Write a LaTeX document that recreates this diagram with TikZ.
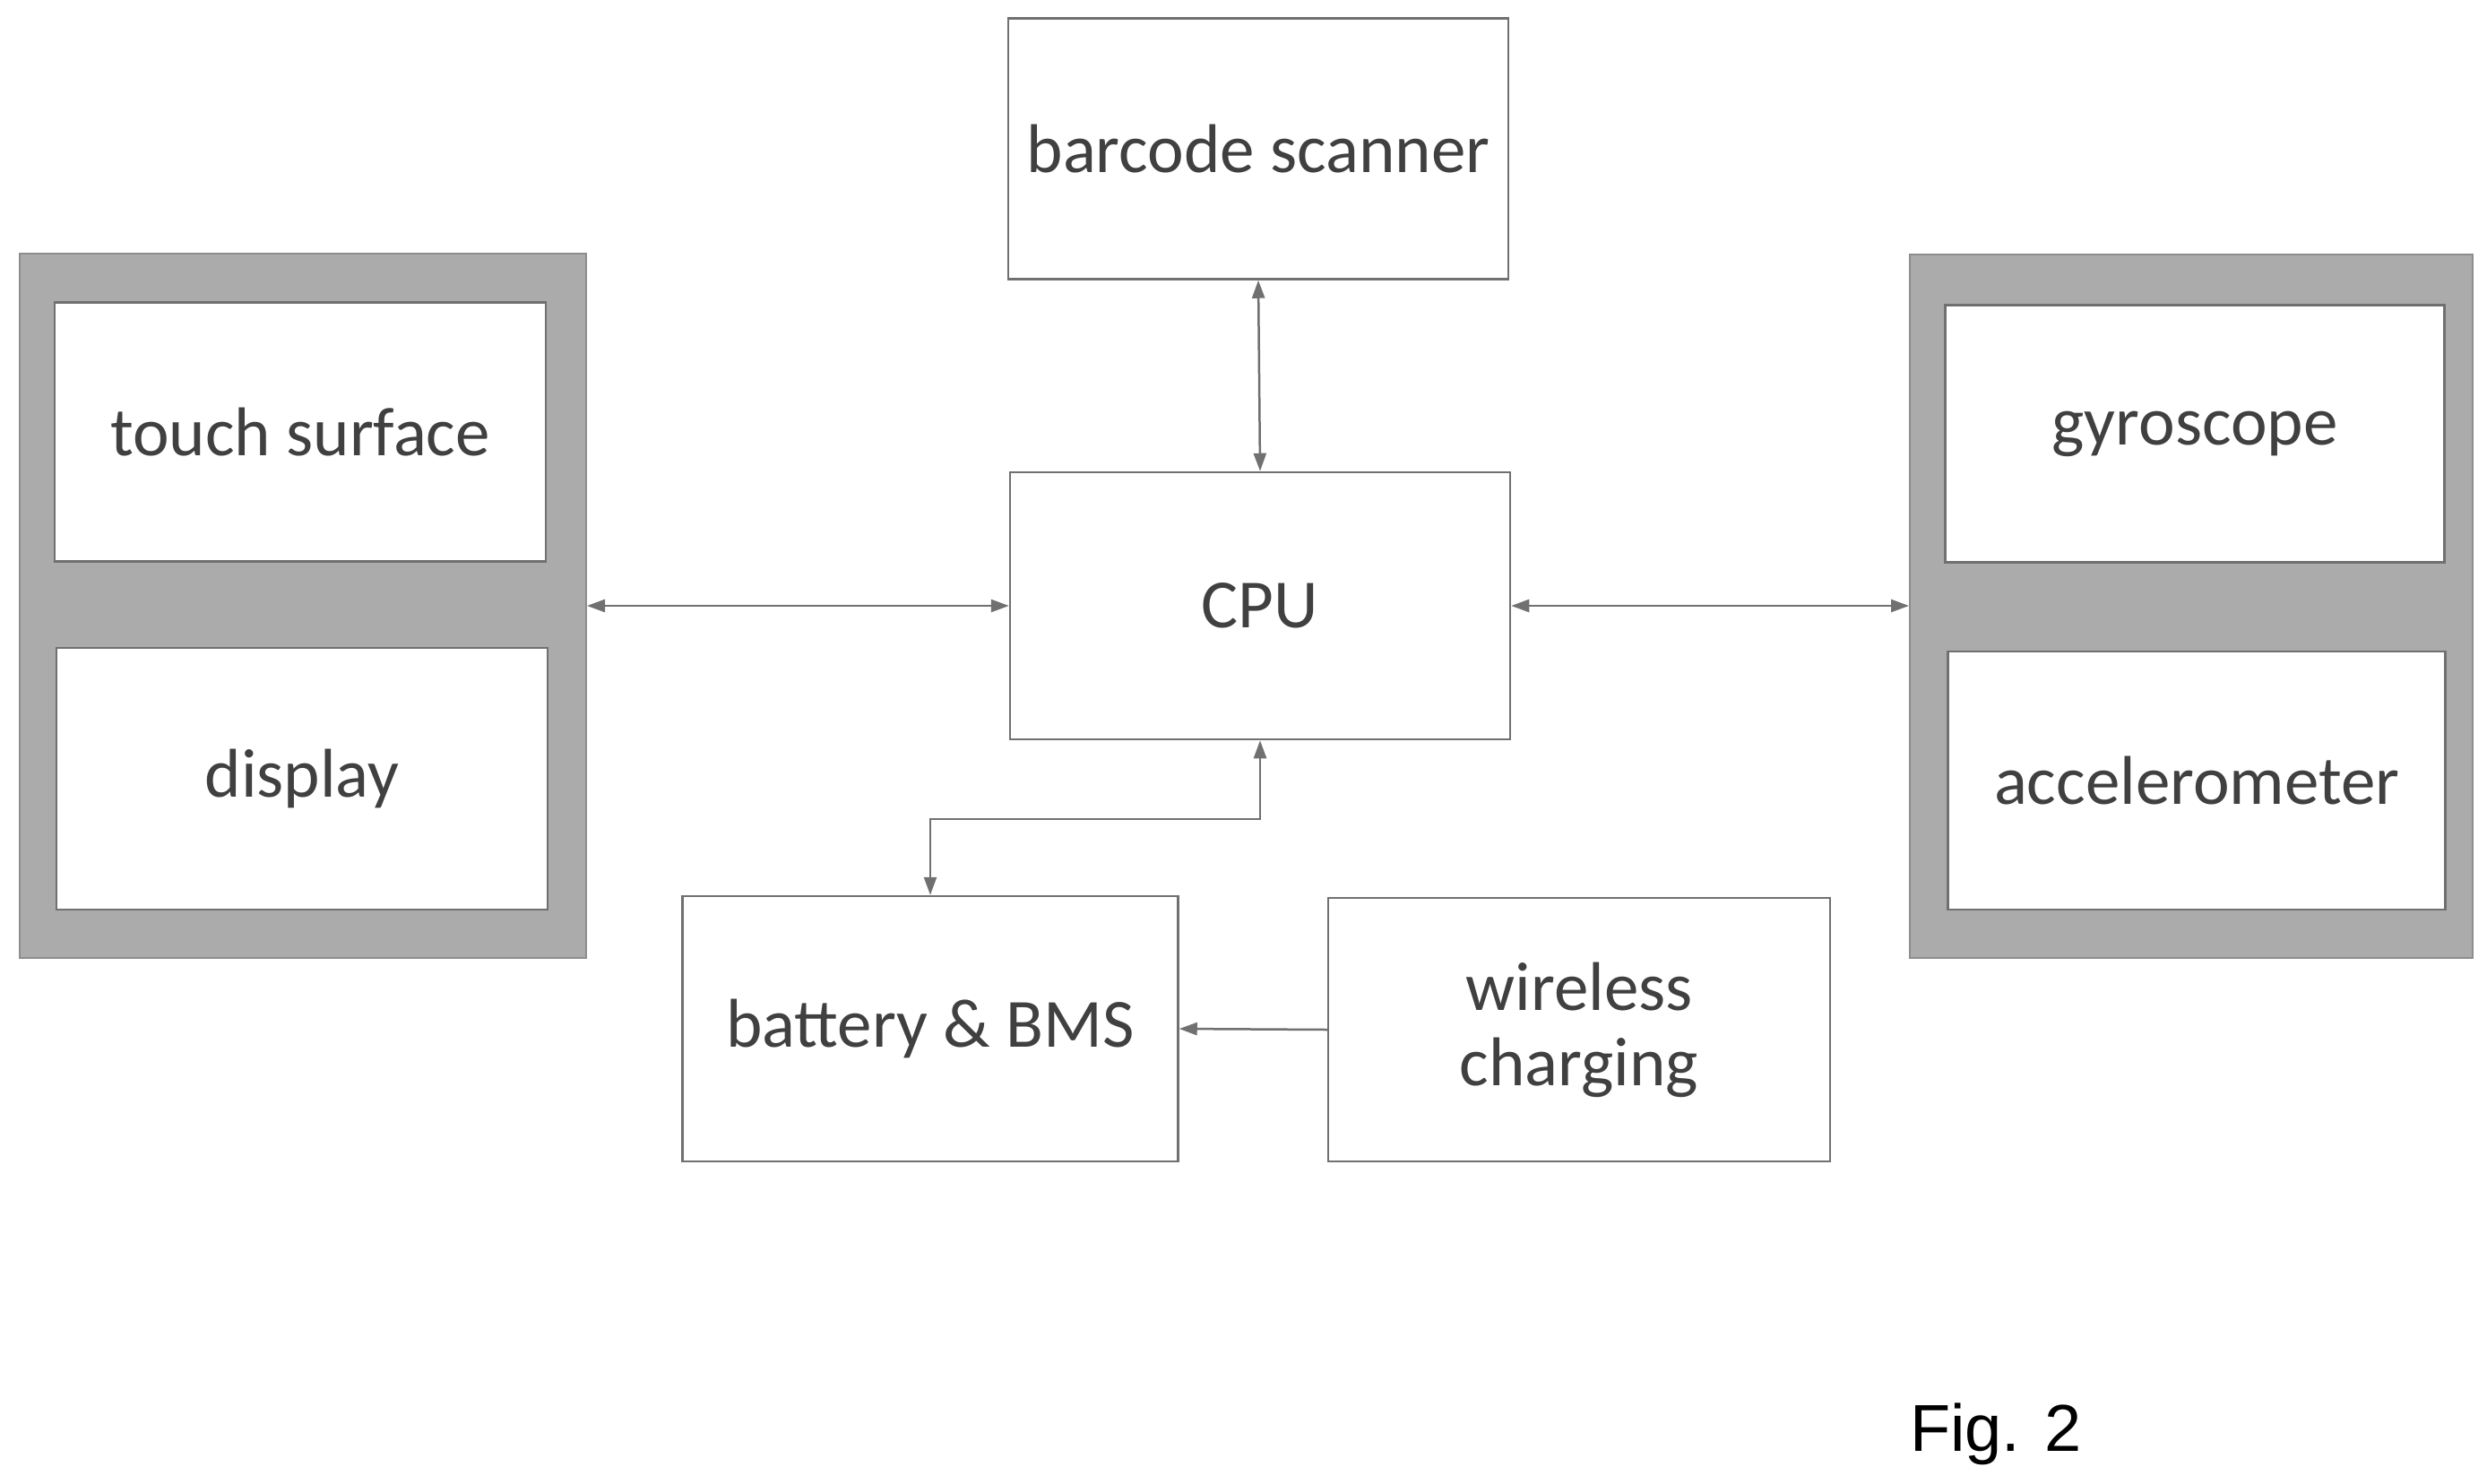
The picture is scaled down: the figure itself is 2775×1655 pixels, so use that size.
\documentclass[tikz,border=0pt]{standalone}
\usepackage{fontspec}
\setmainfont{Carlito}
\newfontfamily\figfont{Liberation Sans}
\usetikzlibrary{arrows.meta}
\definecolor{ln}{HTML}{707070}
\definecolor{tx}{HTML}{404040}
\definecolor{gf}{HTML}{ABABAB}
\begin{document}
\begin{tikzpicture}[x=1pt,y=-1pt,
  box/.style={draw=ln,line width=2.5pt,fill=white,inner sep=0pt,text=tx,font=\fontsize{77}{92}\selectfont,align=center},
  grp/.style={draw=ln!80,line width=2pt,fill=gf},
  con/.style={draw=ln,line width=2.5pt,-{Triangle[length=20pt,width=14pt]}},
  bi/.style={con,{Triangle[length=20pt,width=14pt]}-{Triangle[length=20pt,width=14pt]}}]
\useasboundingbox (0,0) rectangle (2775,1655);
\fill[white] (0,0) rectangle (2775,1655);
\node[grp,minimum width=632pt,minimum height=786pt,inner sep=0pt] (lg) at (338,676) {};
\node[grp,minimum width=628pt,minimum height=785pt,inner sep=0pt] (rg) at (2445,676) {};
\node[box,minimum width=548pt,minimum height=289pt] (touch) at (335,482) {touch surface};
\node[box,minimum width=548pt,minimum height=292pt] (disp) at (337,869) {display};
\node[box,minimum width=557pt,minimum height=287pt] (gyro) at (2449,484) {gyroscope};
\node[box,minimum width=555pt,minimum height=288pt] (acc) at (2451,871) {accelerometer};
\node[box,minimum width=558pt,minimum height=291pt] (bar) at (1404,166) {barcode scanner};
\node[box,minimum width=558pt,minimum height=298pt] (cpu) at (1406,676) {CPU};
\node[box,minimum width=553pt,minimum height=296pt] (bat) at (1038,1148) {battery \& BMS};
\node[box,minimum width=560pt,minimum height=294pt,font=\fontsize{77}{84}\selectfont] (wl) at (1762,1149) {wireless\\charging};
\node[text=black,font=\figfont\fontsize{74}{80}\selectfont] (fig) at (2227,1600) {Fig. 2};
\draw[bi] (cpu.north) -- (bar.south);
\draw[bi] (lg.east) -- (cpu.west);
\draw[bi] (cpu.east) -- (rg.west);
\coordinate (bend1) at (1406,914);
\coordinate (bend2) at (1038,914);
\draw[bi] (cpu.south) -- (bend1) -- (bend2) -- (bat.north);
\draw[con] (wl.west) -- (bat.east);
\end{tikzpicture}
\end{document}
